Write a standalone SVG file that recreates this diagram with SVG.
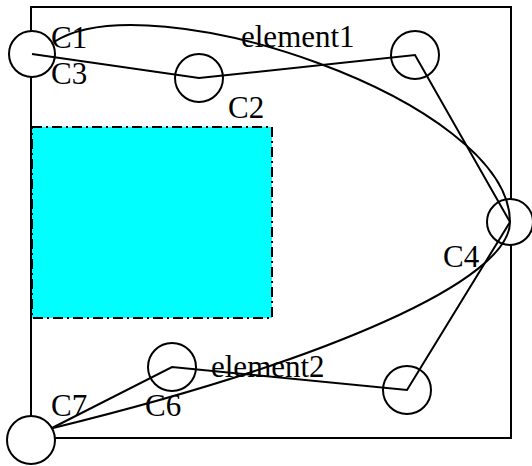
<svg xmlns="http://www.w3.org/2000/svg" width="532" height="466" viewBox="0 0 532 466">
<style>
.frame{fill:none;stroke:#000;stroke-width:2}
.area{fill:#00ffff;stroke:#000;stroke-width:2;stroke-dasharray:10,4,2,4}
.node{fill:#fff;stroke:#000;stroke-width:2}
.edge{fill:none;stroke:#000;stroke-width:2;stroke-linejoin:miter}
.lbl{font-family:"Liberation Serif","Times New Roman",serif;font-size:31px;fill:#000}
</style>
<rect width="532" height="466" fill="#fff"/>
<rect class="frame" x="31" y="7" width="480" height="431"/>
<rect class="area" x="32" y="127" width="240" height="191"/>
<g id="n1"><circle class="node" cx="32" cy="54" r="23"/></g>
<g id="n2"><circle class="node" cx="199" cy="78" r="24"/></g>
<g id="n3"><circle class="node" cx="415" cy="55" r="24"/></g>
<g id="n4"><circle class="node" cx="510" cy="222" r="23"/></g>
<g id="n5"><circle class="node" cx="407" cy="390" r="24"/></g>
<g id="n6"><circle class="node" cx="172" cy="367" r="24"/></g>
<g id="n7"><circle class="node" cx="31" cy="440" r="24"/></g>
<g id="connectors">
<polyline class="edge" points="32,54 199,78 415,55 510,222 407,390 172,367 52,428"/>
<path class="edge" d="M54,42 C150,-20 510,100 510,222 C510,280 330,360 53,428"/>
</g>
<g id="labels">
<text class="lbl" x="51" y="48">C1</text>
<text class="lbl" x="51" y="84">C3</text>
<text class="lbl" x="241" y="47">element1</text>
<text class="lbl" x="228" y="118">C2</text>
<text class="lbl" x="443" y="267">C4</text>
<text class="lbl" x="211" y="377">element2</text>
<text class="lbl" x="51" y="416">C7</text>
<text class="lbl" x="145" y="416">C6</text>
</g>
</svg>
